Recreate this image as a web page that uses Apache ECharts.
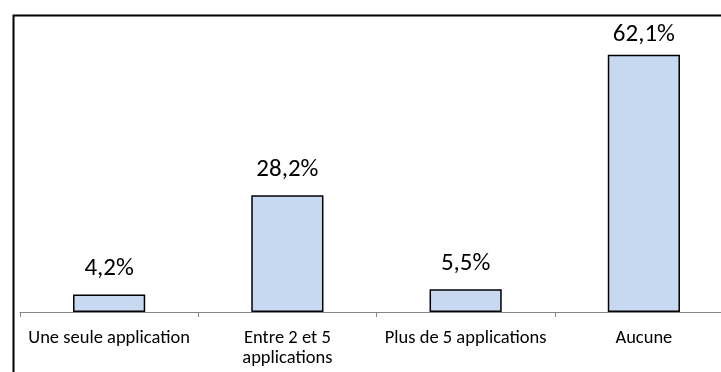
<!DOCTYPE html>
<html>
<head>
<meta charset="utf-8">
<script src="https://cdn.jsdelivr.net/npm/echarts@6/dist/echarts.min.js"></script>
<style>
  html, body { margin: 0; padding: 0; background: #fff; width: 721px; height: 372px; overflow: hidden; }
  /* the plot runs past the right edge of the page, so the canvas is wider than the view */
  #chart { width: 733px; height: 372px; }
</style>
</head>
<body>
<div id="chart"></div>
<script>
// Number of applications used
const categories = ['Une seule application', 'Entre 2 et 5\napplications', 'Plus de 5 applications', 'Aucune'];
const values = [4.2, 28.2, 5.5, 62.1];

const FONT = 'Calibri, Carlito, Lato, "Open Sans", sans-serif';

const chart = echarts.init(document.getElementById('chart'), null, { renderer: 'canvas' });

// the tallest bar's label sits closer to its bar, kept inside the plot area
const seriesData = values.map(v => ({
  value: v,
  label: { distance: v > 60 ? 7 : 13 }
}));

chart.setOption({
  animation: false,
  backgroundColor: '#fff',
  graphic: [{
    type: 'rect',
    left: 11, top: 13,
    shape: { width: 800, height: 500 },
    style: { fill: 'none', stroke: '#000', lineWidth: 2 },
    silent: true
  }],
  grid: { left: 20, right: 0, top: 22, bottom: 60, containLabel: false },
  xAxis: {
    type: 'category',
    data: categories,
    axisLine: { lineStyle: { color: '#868686', width: 1 } },
    axisTick: { show: true, length: 5, alignWithLabel: false, lineStyle: { color: '#868686' } },
    axisLabel: { color: '#000', fontFamily: FONT, fontSize: 18.5, margin: 16, lineHeight: 20, interval: 0 }
  },
  yAxis: {
    type: 'value', min: 0, max: 70,
    show: false,
    splitLine: { show: false }
  },
  series: [{
    type: 'bar',
    data: seriesData,
    barWidth: '40.5%',
    itemStyle: { color: '#C6D9F1', borderColor: '#000', borderWidth: 1.5 },
    label: {
      show: true, position: 'top',
      color: '#000', fontFamily: FONT, fontSize: 25,
      formatter: p => p.value.toFixed(1).replace('.', ',') + '%'
    }
  }]
});
</script>
</body>
</html>
